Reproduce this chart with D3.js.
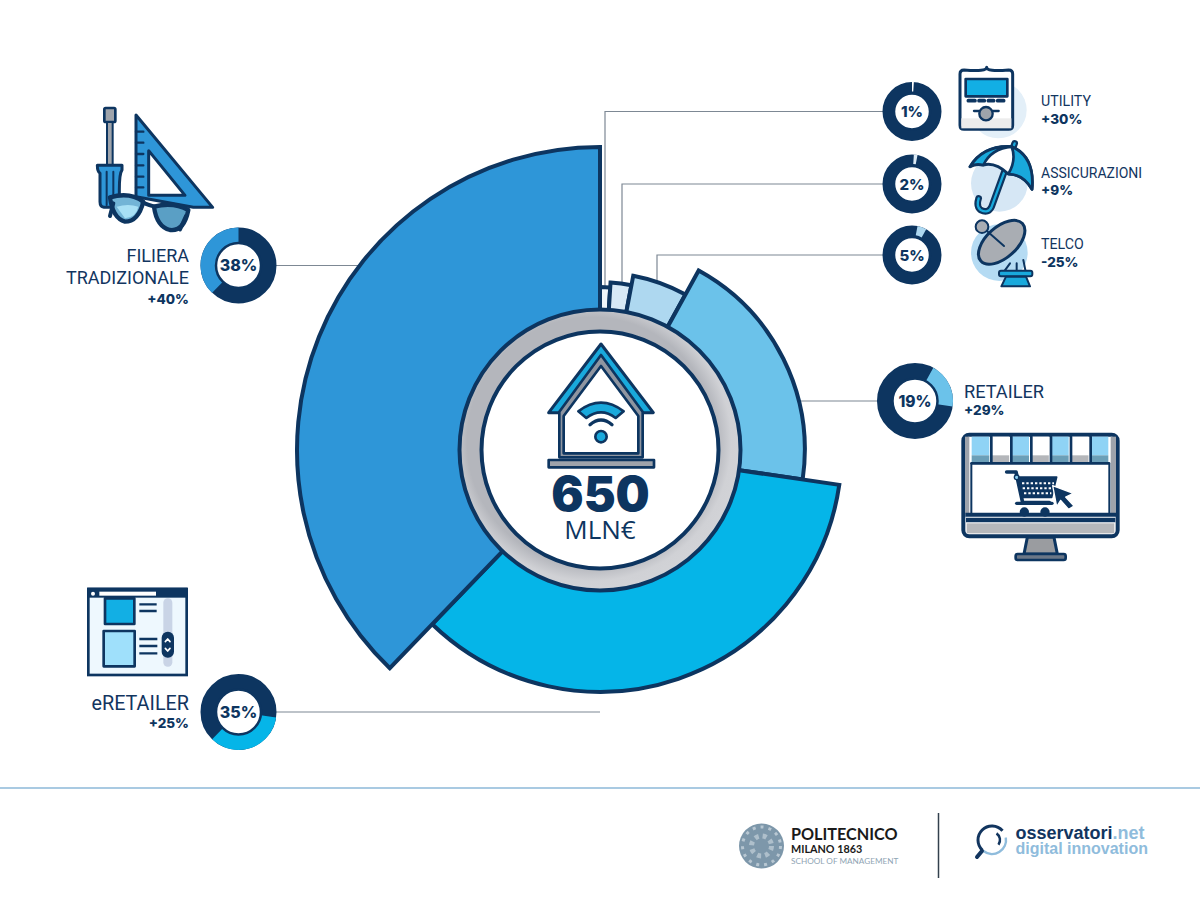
<!DOCTYPE html>
<html>
<head>
<meta charset="utf-8">
<script src="https://cdn.jsdelivr.net/npm/d3@7"></script>
<style>
  html, body { margin: 0; background: #fff; }
  svg { display: block; }
  .lbl { font-family: Roboto, sans-serif; fill: #12355f; }
  .strong { font-family: Inter, "DejaVu Sans", sans-serif; font-weight: 800; fill: #0d3560; }
</style>
</head>
<body>
<div id="chart"></div>
<script>
// values, clockwise from 12 o'clock
const categories = ['Utility', 'Assicurazioni', 'Telco', 'Retailer', 'eRetailer', 'Filiera tradizionale'];
const shares = [1, 2, 5, 19.3, 34.9, 37.8]; // the drawn angles are a bit off the printed whole percents
const growth = ['+30%', '+9%', '-25%', '+29%', '+25%', '+40%'];
const reach = [13, 16, 22, 39, 62, 100]; // how far each slice sticks out, 100 = longest
const labelLines = [['UTILITY'], ['ASSICURAZIONI'], ['TELCO'], ['RETAILER'], ['eRETAILER'], ['FILIERA', 'TRADIZIONALE']];
const totalValue = '650';
const totalUnit = 'MLN€';

const navy = '#0d3560';
const sliceColors = ['#eef6fb', '#d7e9f6', '#aed8f0', '#6bc2ea', '#05b5e8', '#2e96d8'];

const width = 1200;
const height = 900;
const cx = 600;
const cy = 450;

const svg = d3.select('#chart').append('svg').attr('width', width).attr('height', height);
const defs = svg.append('defs');
const ringGrad = defs.append('radialGradient').attr('id', 'ring').attr('cx', '0.47').attr('cy', '0.47').attr('r', '0.54');
ringGrad.append('stop').attr('offset', '0.82').attr('stop-color', '#b4b6bc');
ringGrad.append('stop').attr('offset', '0.92').attr('stop-color', '#d0d1d5');
ringGrad.append('stop').attr('offset', '1').attr('stop-color', '#d2d3d7');

const pie = d3.pie().sort(null).value((d) => d);
const slices = pie(shares);
const radius = d3.scaleLinear().domain([0, 100]).range([142, 303]);
const arc = d3.arc().innerRadius(radius(0) - 10).outerRadius((d) => radius(reach[d.index]));

// small donuts next to each label: centre, size and where the leader goes
const donuts = [
  { x: 912, y: 111.5, r: 29.5, inner: 18, font: 15, elbow: 605 },
  { x: 912, y: 184, r: 29.5, inner: 18, font: 15, elbow: 622 },
  { x: 912, y: 255, r: 29.5, inner: 18, font: 15, elbow: 657 },
  { x: 915, y: 401, r: 38, inner: 22.5, font: 15.5 },
  { x: 238.5, y: 712, r: 38, inner: 22.5, font: 16 },
  { x: 238.5, y: 265.5, r: 38, inner: 22.5, font: 16 },
];

// leaders run behind the pie, so they stop at the slice edge
svg.append('g')
  .attr('fill', 'none')
  .attr('stroke', '#7d8894')
  .attr('stroke-width', 1.2)
  .selectAll('path')
  .data(donuts)
  .join('path')
  .attr('d', (d) => d.elbow ? `M${d.x},${d.y}H${d.elbow}V${cy}` : `M${d.x},${d.y}H${cx}`);

svg.append('g')
  .attr('transform', `translate(${cx},${cy})`)
  .selectAll('path')
  .data(slices)
  .join('path')
  .attr('d', arc)
  .attr('fill', (d) => sliceColors[d.index])
  .attr('stroke', navy)
  .attr('stroke-width', 4)
  .attr('stroke-linejoin', 'miter');

// centre ring
const centre = svg.append('g').attr('transform', `translate(${cx},${cy})`);
centre.append('circle').attr('r', 140.5).attr('fill', 'url(#ring)').attr('stroke', navy).attr('stroke-width', 4);
centre.append('circle').attr('r', 118.5).attr('fill', '#fff').attr('stroke', navy).attr('stroke-width', 4);

// draws a list of [tag, attrs] into a group; icons are laid out in 3x crop coordinates
function icon(x, y, shapes) {
  const g = svg.append('g').attr('transform', `translate(${x},${y}) scale(${1 / 3})`)
    .attr('stroke-linejoin', 'round').attr('stroke-linecap', 'round');
  shapes.forEach(([tag, attrs]) => {
    const el = g.append(tag);
    Object.entries(attrs).forEach(([k, v]) => el.attr(k, v));
  });
}
const S = navy;

// house
icon(450, 270, [
  ['path', { d: 'M453,222L610,428H296Z', fill: '#19a9dc', stroke: S, 'stroke-width': 9 }],
  ['path', { d: 'M453,255L578,425V562H328V425Z', fill: '#8f95a0', stroke: S, 'stroke-width': 8 }],
  ['path', { d: 'M453,288L565,438V550H341V438Z', fill: '#fff', stroke: S, 'stroke-width': 8 }],
  ['rect', { x: 296, y: 570, width: 316, height: 22, fill: '#9ea3ab', stroke: S, 'stroke-width': 8 }],
  ['path', { d: 'M385,424Q453,372 521,424L497,444Q453,410 409,444Z', fill: '#19a9dc', stroke: S, 'stroke-width': 8 }],
  ['path', { d: 'M420,464Q453,436 486,464', fill: 'none', stroke: S, 'stroke-width': 10 }],
  ['circle', { cx: 453, cy: 500, r: 17, fill: '#19a9dc', stroke: S, 'stroke-width': 8 }],
]);

// utility meter
icon(860, 50, [
  ['circle', { cx: 415, cy: 180, r: 85, fill: '#e3eff8' }],
  ['path', { d: 'M312,60Q380,66 380,52Q380,66 446,60Q458,60 458,72V226Q458,238 446,238H312Q300,238 300,226V72Q300,60 312,60Z', fill: '#fff', stroke: S, 'stroke-width': 9 }],
  ['rect', { x: 304, y: 205, width: 150, height: 30, fill: '#ececec' }],
  ['rect', { x: 317, y: 87, width: 125, height: 52, fill: '#12afe4', stroke: S, 'stroke-width': 8 }],
  ['path', { d: 'M325,152H345M357,152H373M385,152H401M413,152H431', stroke: S, 'stroke-width': 11 }],
  ['path', { d: 'M342,183H416', stroke: S, 'stroke-width': 7 }],
  ['circle', { cx: 378, cy: 191, r: 20, fill: '#9fa4ab', stroke: S, 'stroke-width': 7 }],
]);

// umbrella
icon(860, 50, [
  ['circle', { cx: 418, cy: 400, r: 85, fill: '#d6e7f5' }],
  ['path', { d: 'M464,280L395,470Q385,492 362,480Q348,470 356,445', fill: 'none', stroke: S, 'stroke-width': 20 }],
  ['path', { d: 'M464,280L395,470Q385,492 362,480Q348,470 356,445', fill: 'none', stroke: '#19a9dc', 'stroke-width': 7 }],
  ['path', { d: 'M330,350Q370,285 455,290Q525,320 516,418Q490,372 445,372Q405,335 370,345Q345,340 330,350Z', fill: '#fff', stroke: S, 'stroke-width': 9 }],
  ['path', { d: 'M330,350Q370,285 455,290Q395,295 370,345Q345,340 330,350Z', fill: '#19a9dc', stroke: S, 'stroke-width': 8 }],
  ['path', { d: 'M455,290Q525,320 516,418Q490,372 445,372Q470,330 455,290Z', fill: '#19a9dc', stroke: S, 'stroke-width': 8 }],
]);

// dish
icon(860, 50, [
  ['circle', { cx: 418, cy: 608, r: 85, fill: '#b5dbf3' }],
  ['path', { d: 'M450,640L432,665M470,640V665M490,630L497,665', stroke: S, 'stroke-width': 6 }],
  ['ellipse', { cx: 425, cy: 577, rx: 84, ry: 46, transform: 'rotate(-42 425 577)', fill: '#a9adb3', stroke: S, 'stroke-width': 9 }],
  ['path', { d: 'M368,532L432,588', stroke: S, 'stroke-width': 6 }],
  ['circle', { cx: 366, cy: 530, r: 19, fill: '#a9adb3', stroke: S, 'stroke-width': 6 }],
  ['rect', { x: 417, y: 662, width: 100, height: 17, rx: 6, fill: '#19a9dc', stroke: S, 'stroke-width': 6 }],
  ['path', { d: 'M438,680H498L510,709H424Z', fill: '#19a9dc', stroke: S, 'stroke-width': 6 }],
]);

// tools and glasses
icon(60, 90, [
  ['rect', { x: 133, y: 54, width: 33, height: 42, rx: 4, fill: '#9fa4ab', stroke: S, 'stroke-width': 8 }],
  ['rect', { x: 141, y: 96, width: 17, height: 130, fill: '#9fa4ab', stroke: S, 'stroke-width': 6 }],
  ['path', { d: 'M112,226H186V240Q178,250 178,300V352H132Q120,350 120,335V250Q112,245 112,226Z', fill: '#2e96d8', stroke: S, 'stroke-width': 9 }],
  ['path', { d: 'M140,245V345M160,245V345', stroke: S, 'stroke-width': 6 }],
  ['path', { d: 'M228,75L458,352H400L228,320Z', fill: '#2e96d8', stroke: S, 'stroke-width': 9 }],
  ['path', { d: 'M266,182L375,316H266Z', fill: '#fff', stroke: S, 'stroke-width': 9 }],
  ['path', { d: 'M228,125H250M228,158H250M228,192H250M228,226H250M228,260H250M228,292H250', stroke: S, 'stroke-width': 7 }],
  ['path', { d: 'M150,322Q210,305 250,335Q235,395 195,395Q158,385 150,322Z', fill: '#72b4d6', stroke: S, 'stroke-width': 13 }],
  ['path', { d: 'M282,350Q340,335 385,360Q372,425 330,420Q290,410 282,350Z', fill: '#5a9fc5', stroke: S, 'stroke-width': 13 }],
  ['path', { d: 'M248,338Q265,345 284,350M150,378L160,340M360,418L378,378', fill: 'none', stroke: S, 'stroke-width': 12 }],
  ['path', { d: 'M170,350Q205,340 235,350Q230,380 195,385Z', fill: '#a8e0f5' }],
]);

// monitor with cart
const awning = d3.range(7).map((i) => 305 + i * 59.5);
icon(870, 350, [
  ['rect', { x: 280, y: 254, width: 463, height: 305, rx: 18, fill: '#fff', stroke: S, 'stroke-width': 12 }],
  ['path', { d: 'M285,260V490H298V260Z', fill: '#9ea3ab' }],
  ['path', { d: 'M722,260V490H738V260Z', fill: '#9ea3ab' }],
  ...awning.flatMap((x, i) => [
    ['rect', { x, y: 260, width: 53, height: 56, fill: i % 2 ? '#fff' : '#8fd3f5' }],
    ['rect', { x, y: 316, width: 53, height: 20, fill: i % 2 ? '#b4b6ba' : '#6b9fb8' }],
  ]),
  ['path', { d: 'M305,340H716', stroke: S, 'stroke-width': 8 }],
  ['path', { d: 'M364,260V338M424,260V338M484,260V338M543,260V338M603,260V338M662,260V338', stroke: S, 'stroke-width': 8 }],
  ['path', { d: 'M286,494H738', stroke: S, 'stroke-width': 12, 'stroke-linecap': 'butt' }],
  ['path', { d: 'M304,340V488M718,340V488', stroke: S, 'stroke-width': 6 }],
  ['rect', { x: 290, y: 520, width: 443, height: 30, fill: '#b6b8bc' }],
  ['path', { d: 'M288,510H736', stroke: S, 'stroke-width': 14, 'stroke-linecap': 'butt' }],
  ['path', { d: 'M472,562H552L562,612H462Z', fill: '#9a9ca0', stroke: S, 'stroke-width': 9 }],
  ['rect', { x: 437, y: 612, width: 150, height: 18, rx: 6, fill: '#6b7787', stroke: S, 'stroke-width': 8 }],
  ['path', { d: 'M410,366H438L458,458H538', fill: 'none', stroke: S, 'stroke-width': 11 }],
  ['circle', { cx: 440, cy: 382, r: 7, fill: '#8fd3f5', stroke: S, 'stroke-width': 4 }],
  ['path', { d: 'M446,381H560L545,442H458Z', fill: S, stroke: S, 'stroke-width': 5 }],
  ['path', { d: 'M456,400H552M458,415H548M462,430H544', stroke: '#fff', 'stroke-width': 6, 'stroke-dasharray': '7 6', 'stroke-linecap': 'butt' }],
  ['path', { d: 'M440,460H546', stroke: S, 'stroke-width': 10 }],
  ['circle', { cx: 463, cy: 486, r: 14, fill: S }],
  ['circle', { cx: 525, cy: 486, r: 14, fill: S }],
  ['path', { d: 'M548,407L610,430L587,441L612,468L596,478L572,451L560,470Z', fill: S, stroke: '#fff', 'stroke-width': 4 }],
]);

// browser window
icon(70, 575, [
  ['rect', { x: 55, y: 42, width: 295, height: 258, fill: '#eef8fe', stroke: S, 'stroke-width': 8, 'stroke-linejoin': 'miter' }],
  ['rect', { x: 52, y: 38, width: 300, height: 30, fill: S }],
  ['circle', { cx: 69, cy: 56, r: 6, fill: '#fff' }],
  ['rect', { x: 88, y: 50, width: 170, height: 12, fill: '#fff' }],
  ['rect', { x: 105, y: 70, width: 88, height: 77, fill: '#12afe4', stroke: S, 'stroke-width': 8 }],
  ['path', { d: 'M208,88H260M208,108H260', stroke: S, 'stroke-width': 7, 'stroke-linecap': 'butt' }],
  ['rect', { x: 101, y: 168, width: 93, height: 106, fill: '#9fe0fb', stroke: S, 'stroke-width': 8 }],
  ['path', { d: 'M208,192H262M208,213H262M208,235H262', stroke: S, 'stroke-width': 7, 'stroke-linecap': 'butt' }],
  ['rect', { x: 280, y: 70, width: 27, height: 205, rx: 13, fill: '#c9d4e6' }],
  ['rect', { x: 275, y: 170, width: 37, height: 78, rx: 18, fill: S }],
  ['path', { d: 'M286,200L293,192L300,200M286,220L293,228L300,220', fill: 'none', stroke: '#fff', 'stroke-width': 5 }],
]);

// small donuts, same arc as the big slice on a navy base
const miniG = svg.append('g').selectAll('g').data(slices).join('g')
  .attr('transform', (d) => `translate(${donuts[d.index].x},${donuts[d.index].y})`);
miniG.append('circle')
  .attr('r', (d) => (donuts[d.index].r + donuts[d.index].inner) / 2)
  .attr('fill', '#fff')
  .attr('stroke', navy)
  .attr('stroke-width', (d) => donuts[d.index].r - donuts[d.index].inner);
miniG.append('path')
  .attr('d', (d) => d3.arc().innerRadius(donuts[d.index].inner + (d.index > 2 ? 0 : 2)).outerRadius(donuts[d.index].r)(d))
  .attr('fill', (d) => (d.index < 3 ? ['#ffffff', '#dbeaf5', '#aed8f0'][d.index] : sliceColors[d.index]));
miniG.append('circle')
  .attr('r', (d) => donuts[d.index].inner)
  .attr('fill', '#fff')
  .attr('stroke', navy)
  .attr('stroke-width', 2.5);
miniG.append('text')
  .attr('class', 'strong')
  .attr('text-anchor', 'middle')
  .attr('y', (d) => donuts[d.index].font * 0.37)
  .attr('font-size', (d) => donuts[d.index].font)
  .text((d) => Math.round(shares[d.index]) + '%');

// category labels: [x, first baseline, line step, growth baseline, size, anchor]
const labelPos = [
  [1041, 106, 0, 124, 14.2, 'start'],
  [1041, 177.5, 0, 195, 14, 'start'],
  [1041, 249, 0, 267, 14.2, 'start'],
  [964, 398, 0, 415, 18.2, 'start'],
  [189, 710, 0, 728, 19.8, 'end'],
  [189, 262, 22, 304, 18, 'end'],
];
const labels = svg.append('g').selectAll('g').data(categories).join('g')
  .attr('text-anchor', (d, i) => labelPos[i][5]);
labels.each(function (d, i) {
  const p = labelPos[i];
  const g = d3.select(this);
  labelLines[i].forEach((line, j) => {
    g.append('text').attr('class', 'lbl').attr('x', p[0]).attr('y', p[1] + j * p[2])
      .attr('font-size', p[4]).text(line);
  });
  g.append('text').attr('class', 'strong').attr('x', p[0]).attr('y', p[3])
    .attr('font-size', 13.5).text(growth[i]);
});

// total in the centre
svg.append('text').attr('class', 'strong').attr('x', 600.5).attr('y', 510.5)
  .attr('text-anchor', 'middle').attr('font-size', 48).style('font-weight', 900)
  .text(totalValue);
svg.append('text').attr('x', 600).attr('y', 539).attr('text-anchor', 'middle')
  .attr('font-family', '"Open Sans", sans-serif').attr('font-size', 26).attr('fill', navy)
  .text(totalUnit);

// footer
svg.append('line').attr('x1', 0).attr('x2', width).attr('y1', 788).attr('y2', 788)
  .attr('stroke', '#8db9d9').attr('stroke-width', 1.5);
svg.append('line').attr('x1', 938.5).attr('x2', 938.5).attr('y1', 813).attr('y2', 878)
  .attr('stroke', '#33404d').attr('stroke-width', 1.5);

const seal = svg.append('g').attr('transform', 'translate(761.5,846)');
seal.append('circle').attr('r', 22.5).attr('fill', '#7d97aa');
seal.append('circle').attr('r', 19).attr('fill', 'none').attr('stroke', '#b8c7d2').attr('stroke-width', 3).attr('stroke-dasharray', '3 5');
seal.append('circle').attr('r', 10).attr('fill', 'none').attr('stroke', '#aebfcb').attr('stroke-width', 5).attr('stroke-dasharray', '4 4');

const footText = (x, y, size, fill, weight, str, family) => svg.append('text')
  .attr('x', x).attr('y', y).attr('font-size', size).attr('fill', fill)
  .attr('font-weight', weight).attr('font-family', family).text(str);
const sans = 'Lato, sans-serif';
footText(791, 840, 16.2, '#1a1a1a', 700, 'POLITECNICO', sans);
footText(791, 853, 10.8, '#1a1a1a', 700, 'MILANO 1863', sans);
footText(791, 864, 8.2, '#8fa5b4', 400, 'SCHOOL OF MANAGEMENT', sans);

const glass = svg.append('g').attr('fill', 'none').attr('stroke-linecap', 'round').attr('transform', 'translate(992,840)');
glass.append('path').attr('d', d3.arc().innerRadius(14).outerRadius(14).startAngle(-2.4).endAngle(0.85)()).attr('stroke', '#12355f').attr('stroke-width', 3);
glass.append('path').attr('d', d3.arc().innerRadius(14).outerRadius(14).startAngle(1.4).endAngle(3.8)()).attr('stroke', '#8fbcdc').attr('stroke-width', 2.5);
glass.append('path').attr('d', d3.arc().innerRadius(8).outerRadius(8).startAngle(0.6).endAngle(2.2)()).attr('stroke', '#12355f').attr('stroke-width', 2.5);
glass.append('path').attr('d', 'M-15,17L-10,11').attr('stroke', '#12355f').attr('stroke-width', 4);

const arial = '"Liberation Sans", sans-serif';
const obs = footText(1015.5, 839, 18, '#12355f', 700, 'osservatori', arial);
obs.append('tspan').attr('fill', '#8fbcdc').text('.net');
footText(1015.5, 854, 16, '#8fbcdc', 700, 'digital innovation', arial);
</script>
</body>
</html>
